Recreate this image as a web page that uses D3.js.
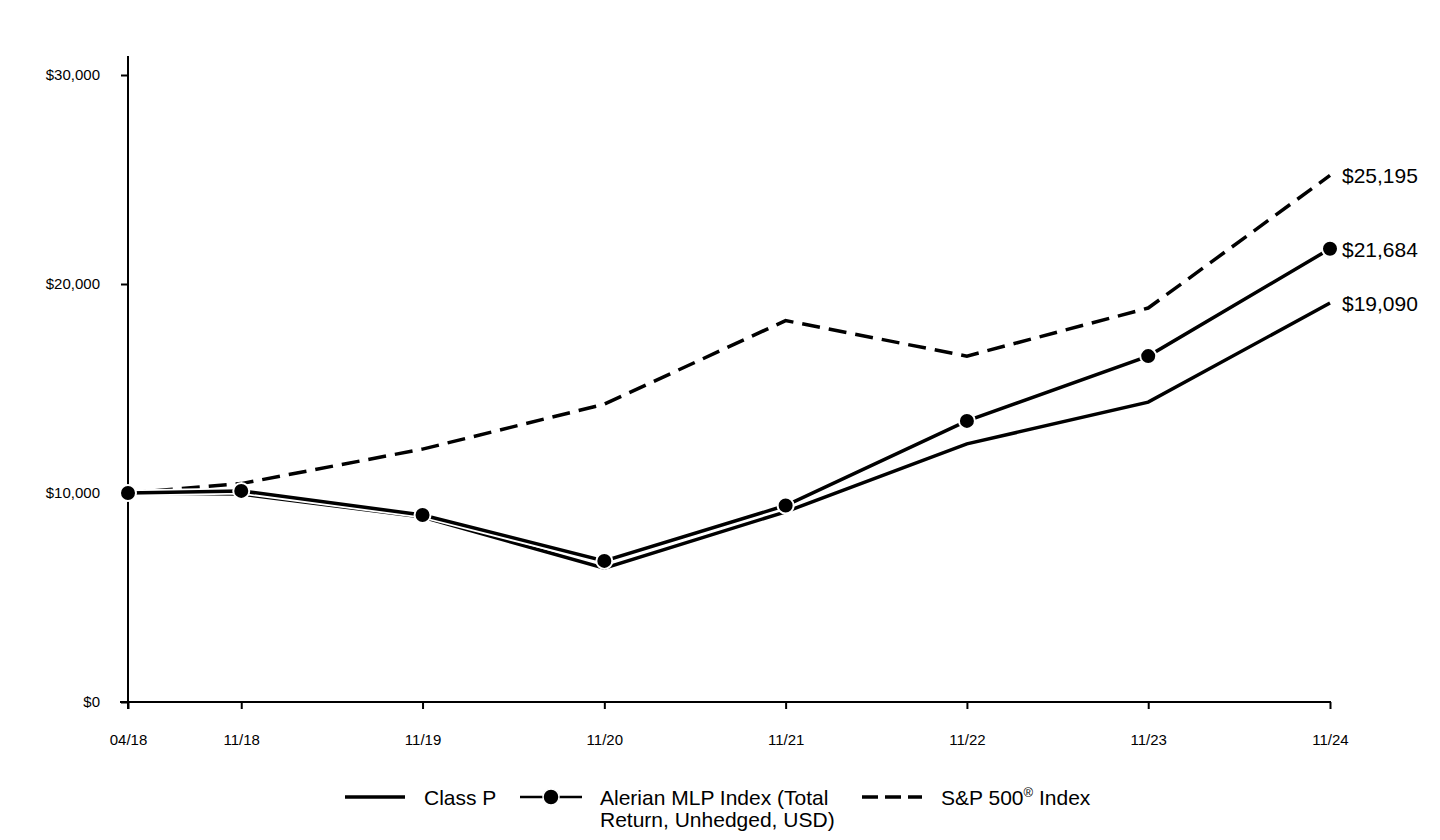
<!DOCTYPE html>
<html><head><meta charset="utf-8">
<script src="https://cdn.jsdelivr.net/npm/d3@7"></script>
<style>body{margin:0;background:#fff;font-family:Arial,"Liberation Sans",sans-serif}</style>
</head><body><svg id="c" width="1440" height="840"></svg>
<script>
const dates = ["2018-04-16","2018-11-30","2019-11-30","2020-11-30","2021-11-30","2022-11-30","2023-11-30","2024-11-30"];
const tickLabels = ["04/18","11/18","11/19","11/20","11/21","11/22","11/23","11/24"];
const classP = [10000, 9950, 8850, 6400, 9100, 12350, 14350, 19090];
const alerian = [10000, 10100, 8950, 6750, 9400, 13450, 16550, 21684];
const sp500 = [10000, 10450, 12100, 14250, 18250, 16550, 18850, 25195];
const yTicks = [0, 10000, 20000, 30000];
const endLabels = ["$25,195", "$21,684", "$19,090"];

const svg = d3.select("#c");
const parse = d3.timeParse("%Y-%m-%d");
const D = dates.map(parse);
const x = d3.scaleTime().domain([D[0], D[7]]).range([128, 1330]);
const y = d3.scaleLinear().domain([0, 30000]).range([702, 75]);

// axes
const yAx = svg.append("g").attr("transform","translate(128,0)")
  .call(d3.axisLeft(y).tickValues(yTicks).tickSize(7).tickPadding(21).tickFormat(d => "$" + d3.format(",")(d)));
yAx.select(".domain").remove();
yAx.selectAll("text").attr("font-size", 15).attr("font-family","Arial, 'Liberation Sans'").attr("fill","#000");
yAx.selectAll("line").attr("stroke","#000").attr("stroke-width",2);
svg.append("line").attr("x1",128).attr("x2",128).attr("y1",56).attr("y2",709).attr("stroke","#000").attr("stroke-width",2);

const xAx = svg.append("g").attr("transform","translate(0,702)")
  .call(d3.axisBottom(x).tickValues(D).tickSize(7).tickPadding(25).tickFormat((d,i) => tickLabels[i]));
xAx.select(".domain").remove();
xAx.selectAll("text").attr("font-size", 15).attr("font-family","Arial, 'Liberation Sans'").attr("fill","#000");
xAx.selectAll("line").attr("stroke","#000").attr("stroke-width",2);
svg.append("line").attr("x1",120).attr("x2",1331).attr("y1",702).attr("y2",702).attr("stroke","#000").attr("stroke-width",2);

const line = d3.line().x((d,i) => x(D[i])).y(d => y(d));

// S&P dashed
svg.append("path").attr("d", line(sp500)).attr("fill","none").attr("stroke","#000")
  .attr("stroke-width",3.5).attr("stroke-dasharray","18,9");
// Class P
svg.append("path").attr("d", line(classP)).attr("fill","none").attr("stroke","#000").attr("stroke-width",3.5);
// Alerian with white halo
svg.append("path").attr("d", line(alerian)).attr("fill","none").attr("stroke","#fff").attr("stroke-width",7);
svg.append("path").attr("d", line(alerian)).attr("fill","none").attr("stroke","#000").attr("stroke-width",3.5);
svg.selectAll("circle.m").data(alerian).enter().append("circle").attr("class","m")
  .attr("cx",(d,i) => x(D[i])).attr("cy", d => y(d)).attr("r",8)
  .attr("fill","#000").attr("stroke","#fff").attr("stroke-width",2);

// end labels
const endVals = [sp500[7], alerian[7], classP[7]];
svg.selectAll("text.end").data(endLabels).enter().append("text").attr("class","end")
  .attr("x", 1342).attr("y",(d,i) => y(endVals[i]) + 8).attr("font-size",21).attr("fill","#000").text(d => d);

// legend
const lg = svg.append("g").attr("font-size",21).attr("fill","#000");
lg.append("line").attr("x1",345).attr("x2",405).attr("y1",797).attr("y2",797).attr("stroke","#000").attr("stroke-width",3.5);
lg.append("text").attr("x",424).attr("y",805).text("Class P");
lg.append("line").attr("x1",520).attr("x2",582).attr("y1",797).attr("y2",797).attr("stroke","#000").attr("stroke-width",2.5);
lg.append("circle").attr("cx",551).attr("cy",797).attr("r",8).attr("fill","#000").attr("stroke","#fff").attr("stroke-width",1.5);
lg.append("text").attr("x",600).attr("y",805).text("Alerian MLP Index (Total");
lg.append("text").attr("x",600).attr("y",827).text("Return, Unhedged, USD)");
lg.append("line").attr("x1",862).attr("x2",922).attr("y1",797).attr("y2",797).attr("stroke","#000").attr("stroke-width",3.5).attr("stroke-dasharray","16,7");
const t = lg.append("text").attr("x",941).attr("y",805);
t.append("tspan").text("S&P 500");
t.append("tspan").attr("font-size",13).attr("dy",-8).text("®");
t.append("tspan").attr("dy",8).text(" Index");
</script></body></html>
